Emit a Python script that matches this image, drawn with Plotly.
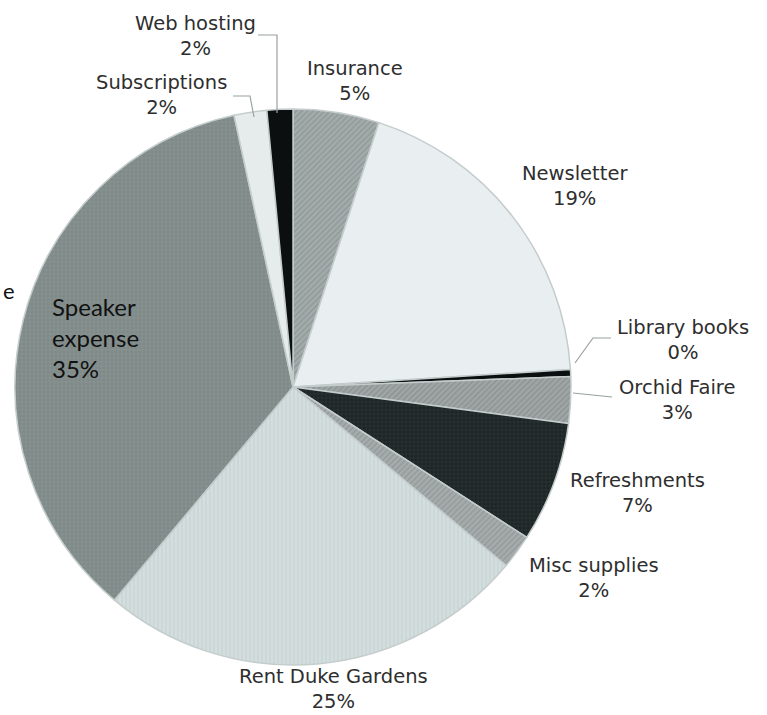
import plotly.graph_objects as go

W, H = 767, 715

categories = ["Insurance", "Newsletter", "Library books", "Orchid Faire", "Refreshments",
              "Misc supplies", "Rent Duke Gardens", "Speaker expense", "Subscriptions", "Web hosting"]
values = [5.0, 19.0, 0.4, 2.7, 7.0, 2.0, 25.0, 35.5, 1.9, 1.5]
pct_labels = ["5%", "19%", "0%", "3%", "7%", "2%", "25%", "35%", "2%", "2%"]

colors = ["#a3abab", "#e9eef0", "#0c0f0f", "#a0a6a6", "#1c2424",
          "#a6acac", "#d4dede", "#7f8a88", "#e6ecec", "#0c0f0f"]
pat_shapes = ["/", "", "", "/", "+", "/", "|", "+", "", ""]
pat_fg = ["#7c8484", "#e9eef0", "#0c0f0f", "#777d7d", "#3a4444",
          "#808686", "#bccaca", "#93a09e", "#e6ecec", "#0c0f0f"]


def px(x, y):
    return x / W, 1 - y / H


cx, cy, r = 293, 387, 278
x0, y0 = px(cx - r, cy + r)
x1, y1 = px(cx + r, cy - r)

fig = go.Figure(go.Pie(
    labels=categories,
    values=values,
    sort=False,
    direction="clockwise",
    rotation=0,
    textinfo="none",
    hoverinfo="label+percent",
    marker=dict(colors=colors,
                line=dict(color="#c4cccc", width=1.5),
                pattern=dict(shape=pat_shapes, fgcolor=pat_fg, size=4, solidity=0.35,
                             fillmode="overlay")),
    domain=dict(x=[x0, x1], y=[y0, y1]),
    showlegend=False,
))

label_font = dict(family="DejaVu Sans", size=19.5, color="#2e2e2e")
# label positions (pixel centres) for two-line labels
label_pos = {
    "Insurance": (355, 81),
    "Newsletter": (575, 186),
    "Library books": (683, 340),
    "Orchid Faire": (677, 400),
    "Refreshments": (637, 493),
    "Misc supplies": (594, 578),
    "Rent Duke Gardens": (333, 689),
    "Subscriptions": (161, 95),
    "Web hosting": (195, 36),
}

annotations = []
for cat, pct in zip(categories, pct_labels):
    if cat == "Speaker expense":
        ax, ay = px(50, 338)
        annotations.append(dict(
            x=ax, y=ay, xref="paper", yref="paper", xanchor="left", yanchor="middle",
            text=f"Speaker<br>expense<br>{pct}", showarrow=False, align="left",
            font=dict(family="Lato", size=24, color="#111111")))
        continue
    lx, ly = label_pos[cat]
    ax, ay = px(lx, ly)
    annotations.append(dict(
        x=ax, y=ay, xref="paper", yref="paper", xanchor="center", yanchor="middle",
        text=f"{cat}<br>{pct}", showarrow=False, align="center", font=label_font))

# clipped neighbouring text fragment at left edge
ex, ey = px(1, 290)
annotations.append(dict(x=ex, y=ey, xref="paper", yref="paper", xanchor="left",
                        yanchor="middle", text="e", showarrow=False,
                        font=dict(family="Lato", size=22, color="#111111")))

leader_lines = [
    [(258, 35), (277, 35), (277, 113)],
    [(233, 96), (250, 96), (254, 117)],
    [(611, 338), (593, 338), (575, 363)],
    [(612, 397), (573, 393)],
]
shapes = []
for pts in leader_lines:
    path = "M " + " L ".join(f"{px(x, y)[0]},{px(x, y)[1]}" for x, y in pts)
    shapes.append(dict(type="path", xref="paper", yref="paper", path=path,
                       line=dict(color="#9aa0a0", width=1.2)))

fig.update_layout(
    width=W, height=H,
    margin=dict(l=0, r=0, t=0, b=0),
    paper_bgcolor="white",
    plot_bgcolor="white",
    annotations=annotations,
    shapes=shapes,
)

fig.write_html("out.html")
